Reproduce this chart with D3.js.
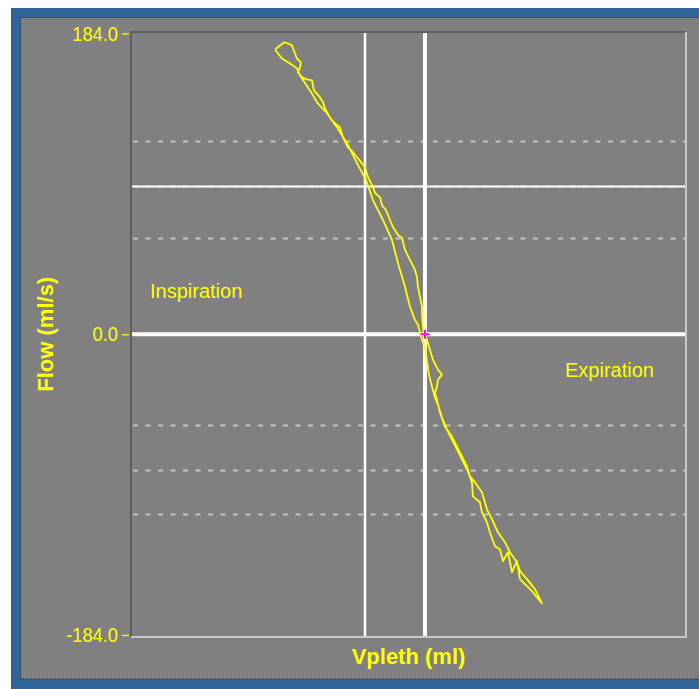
<!DOCTYPE html>
<html>
<head>
<meta charset="utf-8">
<script src="https://cdn.jsdelivr.net/npm/d3@7"></script>
<style>
  html, body { margin: 0; padding: 0; background: #ffffff; }
  svg { display: block; }
</style>
</head>
<body>
<svg id="chart" width="699" height="689"></svg>
<script>
// Plethysmograph flow–volume loop (Vpleth vs. Flow)

// trace: volume (ml) and flow (ml/s), one closed loop
const vpleth = [
  -25.51, -24.66, -23.98, -23.30, -22.62, -22.11, -21.77, -21.09, -21.26, -21.60,
  -20.92, -20.07, -19.22, -18.88, -17.86, -17.35, -17.01, -15.99, -15.14, -14.46,
  -13.95, -13.10, -12.41, -11.56, -10.88, -10.20, -9.69, -8.84, -8.50, -7.65,
  -7.31, -6.63, -5.95, -5.44, -4.59, -3.91, -3.40, -2.55, -1.70, -1.36,
  -1.19, -0.85, -0.51, -0.51, -0.34, -0.17, 0.34, 0.85, 1.36, 2.21,
  2.89, 2.21, 2.04, 1.70, 2.04, 2.55, 3.40, 4.59, 5.44, 6.29,
  7.14, 7.65, 8.50, 9.69, 10.54, 11.39, 12.41, 13.61, 14.46, 15.65,
  16.16, 17.35, 18.71, 19.56, 19.90,
  18.88, 18.37, 17.35, 16.16, 15.65, 14.80, 14.12, 13.27, 12.76, 11.90,
  11.05, 10.54, 9.69, 9.35, 8.16, 7.99, 7.31, 6.46, 5.61, 4.76,
  3.74, 2.89, 2.21, 1.70, 1.19, 0.68, 0.51, 0.17, -0.17, -0.51,
  -0.68, -1.19, -1.70, -2.55, -3.40, -4.59, -5.61, -7.14, -8.84, -10.03,
  -11.56, -13.27, -14.97, -16.67, -18.37, -19.56, -21.26, -21.77, -22.45, -24.32,
  -25.51
];
const flow = [
  174.2, 176.7, 178.5, 177.9, 176.7, 171.8, 168.7, 166.3, 163.3, 160.2,
  157.2, 155.9, 155.3, 149.2, 144.9, 141.9, 138.2, 131.5, 128.5, 126.6,
  120.5, 114.4, 112.0, 108.3, 105.3, 102.2, 96.1, 90.0, 86.4, 83.9,
  79.0, 76.0, 69.9, 65.6, 60.7, 58.9, 51.6, 45.5, 39.4, 35.1,
  29.0, 22.9, 16.8, 13.1, 4.6, -0.3, -3.4, -9.5, -15.6, -21.7,
  -24.7, -27.8, -32.0, -35.7, -40.0, -47.9, -56.5, -62.6, -68.7, -74.8,
  -80.9, -87.0, -90.6, -96.7, -107.1, -113.2, -121.1, -127.2, -133.4, -139.5,
  -144.9, -149.8, -155.9, -162.0, -164.5,
  -160.2, -157.8, -154.1, -149.8, -138.8, -145.6, -133.4, -138.8, -131.5, -129.7,
  -121.1, -115.0, -108.9, -102.8, -99.2, -90.6, -83.9, -77.8, -71.7, -65.6,
  -58.3, -51.0, -43.0, -38.8, -32.0, -24.7, -20.4, -12.5, -6.4, -3.4,
  -0.9, 5.8, 8.8, 16.8, 29.0, 43.6, 57.7, 69.9, 82.1, 94.3,
  104.7, 116.9, 126.6, 135.2, 141.9, 149.2, 158.4, 162.6, 164.5, 168.7,
  174.2
];

// axis ticks and reference levels
const flowTicks = [184, 0, -184];
const dashedFlows = [118.2, 59.1, -55.5, -83.1, -109.8];
const refFlow = 90.4;      // thin solid horizontal level
const refVolume = -10.2;   // thin solid vertical level

const svg = d3.select("#chart");
const W = 699, H = 689;
const plot = { left: 131, top: 32, right: 686, bottom: 637 };

const x = d3.scaleLinear().domain([-50, 44.4]).range([plot.left, plot.right]);
const y = d3.scaleLinear().domain([-184, 184]).range([635, 33.5]);

const yellow = "#ffff00";
const sans = "'Liberation Sans', Arial, sans-serif";

// window frame
svg.append("rect").attr("x", 11).attr("y", 8).attr("width", W - 11).attr("height", H - 8)
  .attr("fill", "#2f6598");
svg.append("rect").attr("x", 20.5).attr("y", 17.5).attr("width", W).attr("height", 679 - 17.5)
  .attr("fill", "#808080").attr("stroke", "#1c2c40").attr("stroke-width", 1)
  .attr("stroke-dasharray", "1,1");

// plot area
const g = svg.append("g");
g.append("rect").attr("x", plot.left).attr("y", plot.top)
  .attr("width", plot.right - plot.left).attr("height", plot.bottom - plot.top)
  .attr("fill", "#808080");

// dashed flow levels
g.selectAll("line.dash").data(dashedFlows.concat([refFlow])).enter().append("line")
  .attr("class", "dash")
  .attr("x1", plot.left + 2).attr("x2", plot.right)
  .attr("y1", d => Math.round(y(d)) + 0.5).attr("y2", d => Math.round(y(d)) + 0.5)
  .attr("stroke", "#c4c4c4").attr("stroke-width", 2)
  .attr("stroke-dasharray", "5,7.5");

// solid reference lines
g.append("line")
  .attr("x1", plot.left).attr("x2", plot.right)
  .attr("y1", y(refFlow)).attr("y2", y(refFlow))
  .attr("stroke", "#ffffff").attr("stroke-width", 2);
g.append("line")
  .attr("x1", x(refVolume)).attr("x2", x(refVolume))
  .attr("y1", plot.top).attr("y2", plot.bottom)
  .attr("stroke", "#ffffff").attr("stroke-width", 2.5);

// zero axes
g.append("line")
  .attr("x1", plot.left).attr("x2", plot.right)
  .attr("y1", y(0)).attr("y2", y(0))
  .attr("stroke", "#ffffff").attr("stroke-width", 4);
g.append("line")
  .attr("x1", x(0)).attr("x2", x(0))
  .attr("y1", plot.top).attr("y2", plot.bottom)
  .attr("stroke", "#ffffff").attr("stroke-width", 4);

// loop trace
const pts = vpleth.map((v, i) => [v, flow[i]]);
const line = d3.line().x(d => x(d[0])).y(d => y(d[1])).curve(d3.curveLinear);
g.append("path").datum(pts)
  .attr("d", line)
  .attr("fill", "none")
  .attr("stroke", yellow)
  .attr("stroke-width", 1.8)
  .attr("stroke-linejoin", "round");

// origin marker
const ox = x(0), oy = y(0);
g.append("path")
  .attr("d", `M${ox - 4.5},${oy}H${ox + 4.5}M${ox},${oy - 4.5}V${oy + 4.5}`)
  .attr("stroke", "#ff00ff").attr("stroke-width", 2);

// plot border: dark top/left, light bottom/right
g.append("path")
  .attr("d", `M${plot.left},${plot.bottom}V${plot.top}H${plot.right}`)
  .attr("fill", "none").attr("stroke", "#606060").attr("stroke-width", 2);
g.append("path")
  .attr("d", `M${plot.left},${plot.bottom}H${plot.right}V${plot.top}`)
  .attr("fill", "none").attr("stroke", "#c8c8c8").attr("stroke-width", 2);

// flow axis (plain hyphen for negative values)
const fmt = d3.format(".1f");
const yAxis = d3.axisLeft(y).tickValues(flowTicks)
  .tickFormat(d => fmt(d).replace("\u2212", "-"))
  .tickSize(7).tickPadding(4);
const ax = svg.append("g").attr("transform", "translate(129,0)").call(yAxis);
ax.select(".domain").remove();
ax.selectAll(".tick line").attr("stroke", yellow).attr("stroke-width", 1.3);
ax.selectAll(".tick text")
  .attr("fill", yellow)
  .style("font-family", sans)
  .style("font-size", "21px")
  .each(function () {
    // narrow, tall digits
    const w = this.getComputedTextLength();
    d3.select(this).attr("textLength", w * 0.87).attr("lengthAdjust", "spacingAndGlyphs");
  });

// axis titles
svg.append("text")
  .attr("x", (plot.left + plot.right) / 2).attr("y", 663.5)
  .attr("text-anchor", "middle")
  .attr("fill", yellow)
  .style("font-family", sans).style("font-weight", "bold").style("font-size", "22px")
  .text("Vpleth (ml)");
svg.append("text")
  .attr("transform", `translate(53,${y(0)}) rotate(-90)`)
  .attr("text-anchor", "middle")
  .attr("fill", yellow)
  .style("font-family", sans).style("font-weight", "bold").style("font-size", "22px")
  .text("Flow (ml/s)");

// phase labels
svg.append("text").attr("x", 150).attr("y", 297.5)
  .attr("fill", yellow).style("font-family", sans).style("font-size", "20px")
  .text("Inspiration");
svg.append("text").attr("x", 565).attr("y", 377)
  .attr("fill", yellow).style("font-family", sans).style("font-size", "20px")
  .text("Expiration");
</script>
</body>
</html>
